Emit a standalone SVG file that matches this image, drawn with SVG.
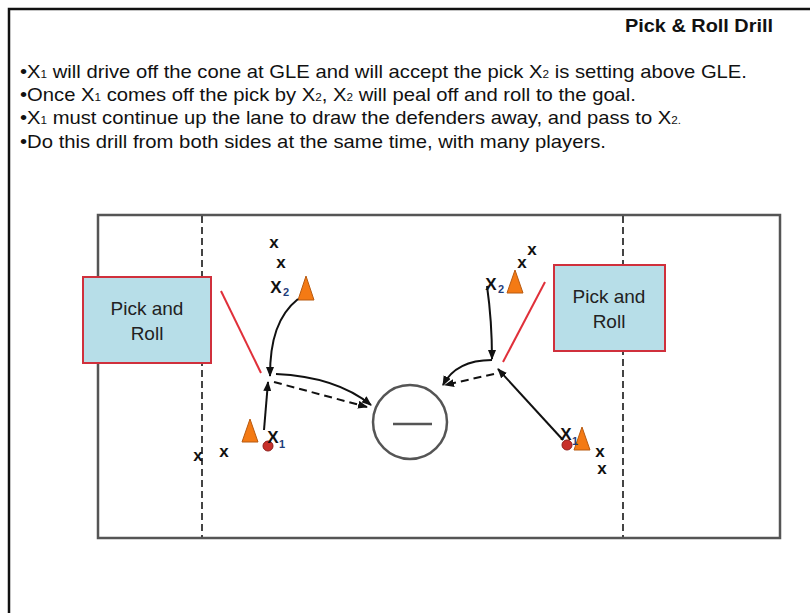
<svg xmlns="http://www.w3.org/2000/svg" width="810" height="613" viewBox="0 0 810 613">
<style>
.body{font-family:"Liberation Sans",Arial,sans-serif;font-size:19px;fill:#111}
.sub{font-size:11px}
.title{font-family:"Liberation Sans",Arial,sans-serif;font-size:19px;font-weight:bold;fill:#111}
.lbl{font-family:"Liberation Sans",Arial,sans-serif;font-size:19px;fill:#222;text-anchor:middle}
.x{font-family:"Liberation Sans",Arial,sans-serif;font-size:17px;font-weight:bold;fill:#111;text-anchor:middle}
.xs{font-family:"Liberation Sans",Arial,sans-serif;font-size:11px;font-weight:bold;fill:#1f3d7a}
.box{fill:#b7dee8;stroke:#d0303c;stroke-width:2}
.red{stroke:#e0303a;stroke-width:2;fill:none}
.cone{fill:#f47a14;stroke:#b85a10;stroke-width:1}
.dot{fill:#c8302a;stroke:#901e1a;stroke-width:1}
.arr{stroke:#111;stroke-width:2;fill:none;marker-end:url(#ah)}
.dash{stroke:#111;stroke-width:2;fill:none;stroke-dasharray:8 5;marker-end:url(#ah)}
.field{fill:none;stroke:#555;stroke-width:2.5}
.half{stroke:#444;stroke-width:2;stroke-dasharray:7 4}
</style>
<defs>
<marker id="ah" markerWidth="10" markerHeight="8" refX="9" refY="4" orient="auto" markerUnits="userSpaceOnUse">
<path d="M0,0 L10,4 L0,8 z" fill="#111"/>
</marker>
</defs>
<rect x="0" y="0" width="810" height="613" fill="#fff"/>
<path d="M9,613 V9 H810" fill="none" stroke="#111" stroke-width="2.5"/>
<text class="title" x="625" y="32" textLength="148" lengthAdjust="spacingAndGlyphs">Pick &amp; Roll Drill</text>
<text class="body" x="20" y="78" textLength="727" lengthAdjust="spacingAndGlyphs">•X<tspan class="sub">1</tspan> will drive off the cone at GLE and will accept the pick X<tspan class="sub">2</tspan> is setting above GLE.</text>
<text class="body" x="20" y="101" textLength="616" lengthAdjust="spacingAndGlyphs">•Once X<tspan class="sub">1</tspan> comes off the pick by X<tspan class="sub">2</tspan>, X<tspan class="sub">2</tspan> will peal off and roll to the goal.</text>
<text class="body" x="20" y="124" textLength="661" lengthAdjust="spacingAndGlyphs">•X<tspan class="sub">1</tspan> must continue up the lane to draw the defenders away, and pass to X<tspan class="sub">2.</tspan></text>
<text class="body" x="20" y="148" textLength="586" lengthAdjust="spacingAndGlyphs">•Do this drill from both sides at the same time, with many players.</text>

<g id="field">
<rect class="field" x="98" y="215" width="682" height="323"/>
<line class="half" x1="202" y1="216" x2="202" y2="537"/>
<line class="half" x1="623" y1="216" x2="623" y2="537"/>
</g>
<g id="goal">
<circle cx="410" cy="422" r="37" fill="#fff" stroke="#555" stroke-width="2.5"/>
<line x1="393" y1="424" x2="432" y2="424" stroke="#555" stroke-width="2.5"/>
</g>

<g id="box-left">
<rect class="box" x="83" y="277" width="128" height="86"/>
<text class="lbl" x="147" y="315">Pick and</text>
<text class="lbl" x="147" y="340">Roll</text>
</g>
<g id="box-right">
<rect class="box" x="554" y="265" width="111" height="86"/>
<text class="lbl" x="609" y="303">Pick and</text>
<text class="lbl" x="609" y="328">Roll</text>
</g>

<g id="left-players">
<text class="x" x="274" y="248">x</text>
<text class="x" x="281" y="268">x</text>
<text class="x" x="276" y="293">X</text><text class="xs" x="283" y="296">2</text>
<polygon class="cone" points="306,276 298,300 314,300"/>
<polygon class="cone" points="250,419 242,442 258,442"/>
<circle class="dot" cx="268" cy="446" r="5"/>
<text class="x" x="273" y="443">X</text><text class="xs" x="279" y="448">1</text>
<text class="x" x="224" y="457">x</text>
<text class="x" x="198" y="461">x</text>
</g>
<g id="right-players">
<text class="x" x="532" y="255">x</text>
<text class="x" x="522" y="268">x</text>
<text class="x" x="491" y="290">X</text><text class="xs" x="498" y="293">2</text>
<polygon class="cone" points="515,270 507,293 523,293"/>
<polygon class="cone" points="582,427 574,450 590,450"/>
<circle class="dot" cx="567" cy="445" r="5"/>
<text class="x" x="566" y="440">X</text><text class="xs" x="572" y="445">1</text>
<text class="x" x="600" y="457">x</text>
<text class="x" x="602" y="474">x</text>
</g>

<g id="connectors">
<line class="red" x1="221" y1="291" x2="261" y2="373"/>
<line class="red" x1="545" y1="282" x2="503" y2="362"/>
<path class="arr" d="M298,299 C278,315 270,340 270,376"/>
<path class="arr" d="M264,430 L268,382"/>
<path class="arr" d="M276,374 C320,376 350,388 371,405"/>
<path class="dash" d="M274,382 L367,407"/>
<path class="arr" d="M487,286 C489,300 492,330 492,359"/>
<path class="arr" d="M563,440 L498,369"/>
<path class="arr" d="M492,360 C470,360 452,368 443,385"/>
<path class="dash" d="M494,374 L445,385"/>
</g>
</svg>
